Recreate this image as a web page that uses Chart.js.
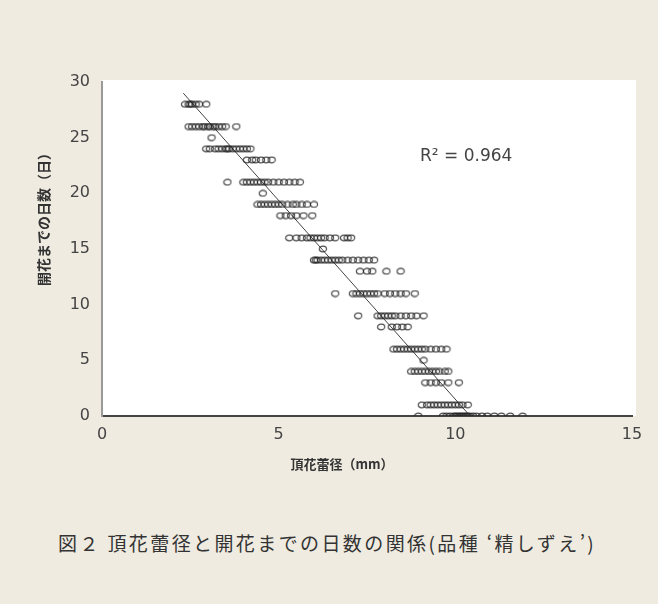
<!DOCTYPE html>
<html lang="ja">
<head>
<meta charset="utf-8">
<script src="https://cdn.jsdelivr.net/npm/chart.js@4/dist/chart.umd.min.js"></script>
<style>
  html, body { margin: 0; padding: 0; }
  body { width: 658px; height: 604px; background: #efebe1; position: relative; overflow: hidden; }
  #wrap { position: absolute; left: 0; top: 0; width: 658px; height: 490px; }
  #caption {
    position: absolute; left: 58px; top: 529px;
    font-family: "Noto Sans CJK JP", sans-serif; font-size: 19px; color: #333;
    letter-spacing: 2.4px; white-space: nowrap;
  }
</style>
</head>
<body>
<div id="wrap"><canvas id="chart" width="658" height="490"></canvas></div>
<div id="caption">図２ 頂花蕾径と開花までの日数の関係(品種 ‘精しずえ’)</div>
<script>
// ==================== DATA ====================
// 日数ごとの頂花蕾径 (mm)
const DAYS = [28, 26, 25, 24, 23, 21, 20, 19, 18, 16, 15, 14, 13, 11, 9, 8, 6, 5, 4, 3, 1, 0];
const DIAMETERS = [
    [2.35, 2.45, 2.5, 2.55, 2.65, 2.75, 2.95],
    [2.45, 2.55, 2.65, 2.75, 2.85, 2.9, 3.0, 3.05, 3.15, 3.2, 3.3, 3.4, 3.5, 3.8],
    [3.1],
    [2.95, 3.05, 3.2, 3.3, 3.4, 3.5, 3.55, 3.6, 3.7, 3.8, 3.9, 4.0, 4.1, 4.2],
    [4.1, 4.25, 4.35, 4.5, 4.65, 4.8],
    [3.55, 4.0, 4.1, 4.2, 4.3, 4.4, 4.5, 4.6, 4.7, 4.85, 5.0, 5.15, 5.3, 5.45, 5.6],
    [4.55],
    [4.4, 4.5, 4.6, 4.7, 4.8, 4.9, 5.0, 5.1, 5.25, 5.4, 5.5, 5.65, 5.8, 6.0],
    [5.05, 5.2, 5.35, 5.5, 5.7, 5.95],
    [5.3, 5.5, 5.65, 5.8, 5.9, 6.0, 6.1, 6.2, 6.3, 6.45, 6.6, 6.85, 6.95, 7.05],
    [6.25],
    [6.0, 6.05, 6.1, 6.2, 6.3, 6.4, 6.5, 6.6, 6.7, 6.8, 6.95, 7.1, 7.25, 7.4, 7.55, 7.7],
    [7.3, 7.5, 7.65, 8.05, 8.45],
    [6.6, 7.1, 7.2, 7.3, 7.4, 7.5, 7.6, 7.7, 7.8, 8.0, 8.15, 8.3, 8.45, 8.6, 8.85],
    [7.25, 7.8, 7.9, 8.0, 8.1, 8.2, 8.3, 8.45, 8.6, 8.75, 8.9, 9.1],
    [7.9, 8.2, 8.35, 8.5, 8.65],
    [8.25, 8.35, 8.45, 8.55, 8.65, 8.75, 8.85, 8.95, 9.05, 9.15, 9.3, 9.45, 9.6, 9.75],
    [9.1],
    [8.75, 8.85, 8.95, 9.05, 9.15, 9.25, 9.35, 9.45, 9.55, 9.7, 9.8],
    [9.15, 9.3, 9.45, 9.6, 9.8, 10.1],
    [9.05, 9.2, 9.3, 9.4, 9.5, 9.6, 9.7, 9.8, 9.9, 10.0, 10.1, 10.2, 10.35],
    [8.95, 9.65, 9.75, 9.85, 9.95, 10.0, 10.05, 10.1, 10.15, 10.2, 10.25, 10.3, 10.35, 10.4, 10.5, 10.6, 10.75, 10.9, 11.1, 11.3, 11.55, 11.9]
];

// 近似直線 (端点)
const TREND_X = [2.3, 10.42];
const TREND_Y = [29.0, 0];

const X_TICKS = [0, 5, 10, 15];
const Y_TICKS = [0, 5, 10, 15, 20, 25, 30];
const R2_LABEL = 'R² = 0.964';
const X_TITLE = '頂花蕾径（mm）';
const Y_TITLE = '開花までの日数（日）';

// ==================== BUILD POINTS ====================
const scatterPoints = [];
DAYS.forEach((d, i) => {
    DIAMETERS[i].forEach(x => scatterPoints.push({ x: x, y: d }));
});
const trendPoints = TREND_X.map((x, i) => ({ x: x, y: TREND_Y[i] }));

// oval marker (Excel-like, a bit wider than tall)
const marker = document.createElement('canvas');
marker.width = 10;
marker.height = 8;
(function () {
    const m = marker.getContext('2d');
    m.strokeStyle = 'rgba(35, 35, 35, 0.8)';
    m.lineWidth = 1.2;
    m.beginPath();
    m.ellipse(5, 4, 3.6, 2.8, 0, 0, Math.PI * 2);
    m.stroke();
})();

// ==================== PLUGINS ====================
const plotBackground = {
    id: 'plotBackground',
    beforeDraw(chart) {
        const a = chart.chartArea;
        const ctx = chart.ctx;
        ctx.save();
        ctx.fillStyle = '#ffffff';
        ctx.fillRect(a.left, a.top - 2, a.right - a.left + 4, a.bottom - a.top + 2);
        ctx.restore();
    }
};

const textLabels = {
    id: 'textLabels',
    afterDraw(chart) {
        const ctx = chart.ctx;
        const a = chart.chartArea;
        const xs = chart.scales.x, ys = chart.scales.y;
        ctx.save();
        ctx.fillStyle = '#333';
        // x title
        ctx.font = 'bold 13px "Noto Sans CJK JP"';
        ctx.textAlign = 'center';
        ctx.textBaseline = 'middle';
        ctx.fillText(X_TITLE, (a.left + a.right) / 2 - 25, 464);
        // y title
        ctx.save();
        ctx.translate(44, 216);
        ctx.rotate(-Math.PI / 2);
        ctx.font = 'bold 14px "Noto Sans CJK JP"';
        ctx.fillText(Y_TITLE, 0, 0);
        ctx.restore();
        // R squared
        ctx.fillStyle = '#444';
        ctx.font = '17px "DejaVu Sans"';
        ctx.textAlign = 'left';
        ctx.fillText(R2_LABEL, xs.getPixelForValue(9), ys.getPixelForValue(23.3));
        ctx.restore();
    }
};

// ==================== CHART ====================
const ctx = document.getElementById('chart').getContext('2d');
new Chart(ctx, {
    type: 'scatter',
    data: {
        datasets: [
            {
                label: '頂花蕾径',
                data: scatterPoints,
                pointStyle: marker,
                pointRadius: 4
            },
            {
                type: 'line',
                label: '近似直線',
                data: trendPoints,
                borderColor: '#444',
                borderWidth: 1,
                pointRadius: 0,
                fill: false
            }
        ]
    },
    plugins: [plotBackground, textLabels],
    options: {
        responsive: false,
        animation: false,
        layout: { padding: { top: 82, right: 26, left: 0, bottom: 0 } },
        plugins: {
            legend: { display: false },
            tooltip: { enabled: false }
        },
        scales: {
            x: {
                type: 'linear',
                min: 0,
                max: 15,
                afterBuildTicks: s => { s.ticks = X_TICKS.map(v => ({ value: v })); },
                afterFit: s => { s.height = 74; },
                grid: { display: false, drawTicks: false },
                border: { color: '#444', width: 2 },
                ticks: {
                    padding: 9,
                    color: '#444',
                    font: { family: 'DejaVu Sans', size: 16 }
                }
            },
            y: {
                type: 'linear',
                min: 0,
                max: 30,
                afterBuildTicks: s => { s.ticks = Y_TICKS.map(v => ({ value: v })); },
                afterFit: s => { s.width = 102; },
                grid: { display: false, drawTicks: false },
                border: { color: '#9a9a9a', width: 2 },
                ticks: {
                    padding: 12,
                    color: '#444',
                    font: { family: 'DejaVu Sans', size: 16 }
                }
            }
        }
    }
});
</script>
</body>
</html>
